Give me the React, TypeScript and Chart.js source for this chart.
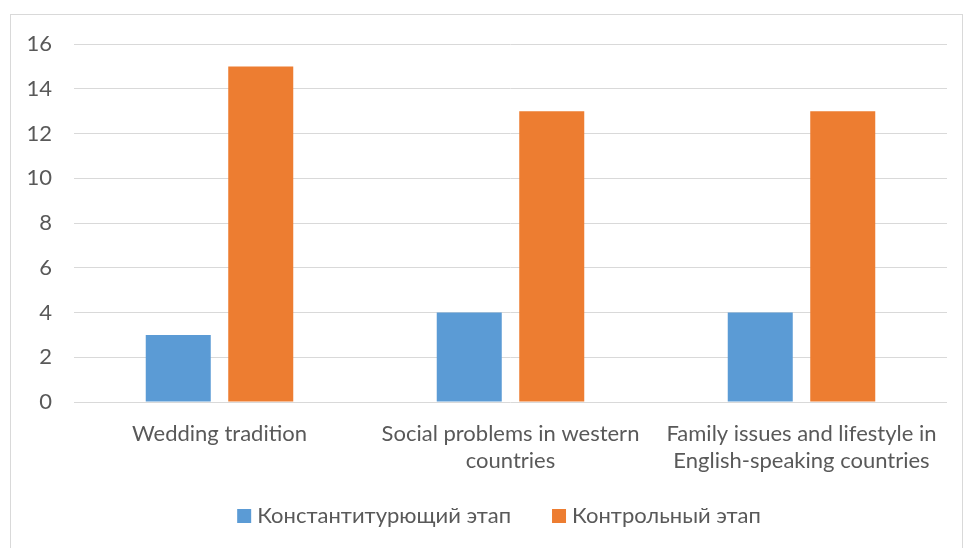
import React, { useEffect, useRef } from "react";
import { Chart, registerables } from "chart.js";

Chart.register(...registerables);

const categories: string[][] = [
  ["Wedding tradition"],
  ["Social problems in western", "countries"],
  ["Family issues and lifestyle in", "English-speaking countries"],
];
const seriesNames = ["Константитурющий этап", "Контрольный этап"];
const seriesColors = ["#5B9BD5", "#ED7D31"];
const stage1Values = [3, 4, 4];
const stage2Values = [15, 13, 13];
const yTicks = [0, 2, 4, 6, 8, 10, 12, 14, 16];

const FONT = "Lato, 'Open Sans', sans-serif";
const TEXT = "#595959";
const FS = 22;

const legendPlugin = {
  id: "customLegend",
  afterDraw(chart: any) {
    const ctx = chart.ctx as CanvasRenderingContext2D;
    ctx.save();
    ctx.font = `${FS}px ${FONT}`;
    const box = 14;
    const gapBoxText = 6;
    const gapItems = 41;
    const items = chart.data.datasets.map((d: any) => ({
      label: d.label as string,
      color: d.backgroundColor as string,
      w: ctx.measureText(d.label).width,
    }));
    const total =
      items.reduce((a: number, it: any) => a + box + gapBoxText + it.w, 0) +
      gapItems * (items.length - 1);
    const centerX = 488;
    const cy = 501;
    let x = centerX - total / 2;
    ctx.textBaseline = "middle";
    ctx.textAlign = "left";
    for (const it of items) {
      ctx.fillStyle = it.color;
      ctx.fillRect(x, cy - box / 2, box, box);
      x += box + gapBoxText;
      ctx.fillStyle = TEXT;
      ctx.fillText(it.label, x, cy);
      x += it.w + gapItems;
    }
    ctx.restore();
  },
};

export default function App() {
  const ref = useRef<HTMLCanvasElement | null>(null);
  useEffect(() => {
    if (!ref.current) return;
    const chart = new Chart(ref.current, {
      type: "bar",
      data: {
        labels: categories,
        datasets: [
          {
            label: seriesNames[0],
            data: stage1Values,
            backgroundColor: seriesColors[0],
            categoryPercentage: 0.567,
            barPercentage: 0.788,
          },
          {
            label: seriesNames[1],
            data: stage2Values,
            backgroundColor: seriesColors[1],
            categoryPercentage: 0.567,
            barPercentage: 0.788,
          },
        ],
      },
      plugins: [legendPlugin],
      options: {
        animation: false,
        responsive: false,
        maintainAspectRatio: false,
        layout: { padding: { top: 29, right: 15, left: 0, bottom: 55 } },
        plugins: {
          tooltip: { enabled: false },
          legend: { display: false },
        },
        scales: {
          x: {
            grid: { display: false, drawTicks: false },
            border: { display: false },
            ticks: {
              color: TEXT,
              font: { family: FONT, size: FS, lineHeight: 27 / FS },
              padding: 18,
              maxRotation: 0,
              autoSkip: false,
            },
            afterFit: (s: any) => {
              s.height = 96;
            },
          },
          y: {
            min: 0,
            max: 16,
            grid: { color: "#d9d9d9", lineWidth: 1, drawTicks: false },
            border: { display: false },
            afterBuildTicks: (s: any) => {
              s.ticks = yTicks.map((v) => ({ value: v }));
            },
            ticks: {
              color: TEXT,
              font: { family: FONT, size: FS },
              padding: 22,
            },
            afterFit: (s: any) => {
              s.width = 63;
              s.paddingTop = 0;
              s.paddingBottom = 0;
            },
          },
        },
      },
    });
    return () => chart.destroy();
  }, []);
  return (
    <div
      style={{
        position: "absolute",
        left: 10,
        top: 14,
        width: 951,
        height: 538,
        border: "1px solid #d9d9d9",
        background: "#fff",
      }}
    >
      <canvas ref={ref} width={951} height={538} style={{ display: "block" }} />
    </div>
  );
}
